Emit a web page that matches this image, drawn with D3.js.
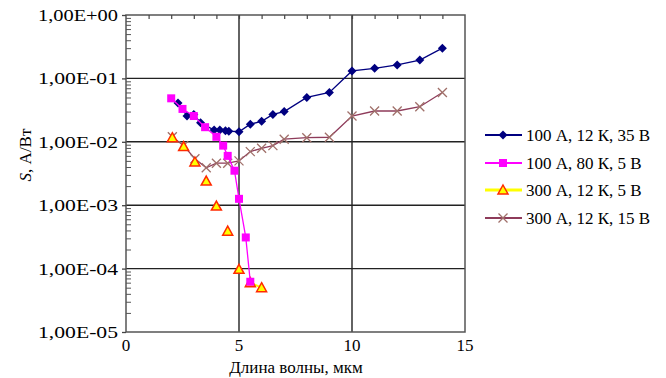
<!DOCTYPE html>
<html>
<head>
<meta charset="utf-8">
<script src="https://cdn.jsdelivr.net/npm/d3@7"></script>
<style>
    body { margin: 0; background: #fff; }
</style>
</head>
<body>
<svg id="chart"></svg>
<script>
// wavelength values (мкм) and sensitivity S (А/Вт) for each curve
const blueX = [2.3, 2.7, 3.0, 3.3, 3.9, 4.15, 4.4, 4.55, 5.0, 5.5, 6.0, 6.5, 7.0, 8.0, 9.0, 10.0, 11.0, 12.0, 13.0, 14.0];
const blueS = [0.041, 0.0255, 0.027, 0.020, 0.0153, 0.0153, 0.015, 0.0147, 0.0144, 0.019, 0.021, 0.027, 0.030, 0.050, 0.060, 0.131, 0.144, 0.163, 0.195, 0.30];

const pinkX = [2.0, 2.5, 3.0, 3.5, 4.0, 4.3, 4.5, 4.8, 5.0, 5.3, 5.5];
const pinkS = [0.0485, 0.033, 0.0255, 0.017, 0.012, 0.0087, 0.0060, 0.0035, 0.00126, 0.00031, 0.000062];

// null = empty cell, the line is broken there
const yellowX = [2.05, null, 2.55, null, 3.05, null, 3.55, null, 4.0, null, 4.5, null, 5.0, null, 5.5, 6.0];
const yellowS = [0.0116, null, 0.0084, null, 0.0048, null, 0.0024, null, 0.00097, null, 0.00039, null, 0.0000975, null, 0.00006, 0.00005];

const brownX = [2.05, 2.55, 3.05, 3.55, 4.0, 4.5, 5.0, 5.5, 6.0, 6.5, 7.0, 8.0, 9.0, 10.0, 11.0, 12.0, 13.0, 14.0];
const brownS = [0.012, 0.0087, 0.0054, 0.0039, 0.0046, 0.0046, 0.0050, 0.0070, 0.0079, 0.0087, 0.011, 0.0116, 0.0118, 0.0255, 0.0306, 0.0306, 0.0358, 0.060];

const seriesNames = ["100 А, 12 К, 35 В", "100 А, 80 К, 5 В", "300 А, 12 К, 5 В", "300 А, 12 К, 15 В"];
const xTicks = [0, 5, 10, 15];
const yTicks = [1e-5, 1e-4, 1e-3, 1e-2, 1e-1, 1];
const yTickLabels = ["1,00E-05", "1,00E-04", "1,00E-03", "1,00E-02", "1,00E-01", "1,00E+00"];

const font = '"Liberation Serif", "DejaVu Serif", serif';

const svg = d3.select("#chart").attr("width", 666).attr("height", 378)
    .style("font-family", font);

const plot = {left: 126, right: 465, top: 15, bottom: 332};

const x = d3.scaleLinear().domain([0, 15]).range([plot.left, plot.right]);
const y = d3.scaleLog().domain([1e-5, 1]).range([plot.bottom, plot.top]);

const zip = (xs, ys) => xs.map((v, i) => (v === null ? null : {x: v, s: ys[i]}));

const series = [
    {name: seriesNames[0], pts: zip(blueX, blueS), line: "#000080", marker: "diamond"},
    {name: seriesNames[1], pts: zip(pinkX, pinkS), line: "#ff00ff", marker: "square"},
    {name: seriesNames[2], pts: zip(yellowX, yellowS), line: "#ffff00", marker: "triangle"},
    {name: seriesNames[3], pts: zip(brownX, brownS), line: "#8e3b5a", marker: "cross"}
];

// grid lines
const grid = svg.append("g");
grid.selectAll("line.h").data(yTicks.slice(1, -1)).enter().append("line")
    .attr("x1", plot.left).attr("x2", plot.right)
    .attr("y1", d => y(d)).attr("y2", d => y(d))
    .attr("stroke", "#222").attr("stroke-width", 1.4);
grid.selectAll("line.v").data(xTicks.slice(1, -1)).enter().append("line")
    .attr("y1", plot.top).attr("y2", plot.bottom)
    .attr("x1", d => x(d)).attr("x2", d => x(d))
    .attr("stroke", "#222").attr("stroke-width", 1.4);

// frame
svg.append("rect")
    .attr("x", plot.left).attr("y", plot.top)
    .attr("width", plot.right - plot.left).attr("height", plot.bottom - plot.top)
    .attr("fill", "none").attr("stroke", "#555").attr("stroke-width", 1.5);

// x axis sits at the top (crosses at 1), minor ticks pointing down
const xTop = svg.append("g")
    .attr("transform", `translate(0, ${plot.top})`)
    .call(d3.axisBottom(x).tickValues(d3.range(1, 15)).tickSize(4).tickFormat(""));
xTop.select(".domain").remove();
xTop.selectAll("line").attr("stroke", "#444").attr("stroke-width", 1.2);

// x tick labels at the bottom
svg.append("g").selectAll("text").data(xTicks).enter().append("text")
    .attr("x", d => x(d)).attr("y", plot.bottom + 19)
    .attr("text-anchor", "middle").attr("font-size", 17)
    .text(d => d);

// y axis: minor ticks inside, major out
const minor = [];
yTicks.slice(0, -1).forEach(t => { for (let k = 2; k <= 9; k++) minor.push(t * k); });
const yMinor = svg.append("g")
    .attr("transform", `translate(${plot.left}, 0)`)
    .call(d3.axisRight(y).tickValues(minor).tickSize(5).tickFormat(""));
yMinor.select(".domain").remove();
yMinor.selectAll("line").attr("stroke", "#555");

const yMajor = svg.append("g")
    .attr("transform", `translate(${plot.left}, 0)`)
    .call(d3.axisLeft(y).tickValues(yTicks).tickSize(4).tickFormat((d, i) => yTickLabels[i]));
yMajor.select(".domain").remove();
yMajor.attr("font-family", font);
yMajor.selectAll("line").attr("stroke", "#444").attr("stroke-width", 1.3);
yMajor.selectAll("text")
    .attr("font-size", 17).attr("fill", "#000")
    .attr("textLength", 80).attr("lengthAdjust", "spacingAndGlyphs")
    .attr("x", -8);

// axis titles
const yTitle = svg.append("text")
    .attr("transform", "translate(31, 155) rotate(-90)")
    .attr("text-anchor", "middle").attr("font-size", 17);
yTitle.append("tspan").attr("font-style", "italic").text("S");
yTitle.append("tspan").text(", А/Вт");

svg.append("text")
    .attr("x", 296).attr("y", 373)
    .attr("text-anchor", "middle").attr("font-size", 17)
    .text("Длина волны, мкм");

// markers
function drawMarker(g, type) {
    if (type === "diamond") {
        g.append("path").attr("d", "M0,-4.5L4.5,0L0,4.5L-4.5,0Z").attr("fill", "#000080");
    } else if (type === "square") {
        g.append("rect").attr("x", -4).attr("y", -4).attr("width", 8).attr("height", 8).attr("fill", "#ff00ff");
    } else if (type === "triangle") {
        g.append("path").attr("d", "M0,-5L5,4L-5,4Z")
            .attr("fill", "#ffff00").attr("stroke", "#ff2a00").attr("stroke-width", 1.5);
    } else {
        g.append("path").attr("d", "M-4.5,-4.5L4.5,4.5M-4.5,4.5L4.5,-4.5")
            .attr("stroke", "#a0706a").attr("stroke-width", 1.3).attr("fill", "none");
    }
}

const line = d3.line()
    .defined(d => d !== null)
    .x(d => x(d.x))
    .y(d => y(d.s));

const drawOrder = [3, 0, 2, 1];
drawOrder.forEach(i => {
    const s = series[i];
    svg.append("path")
        .datum(s.pts)
        .attr("d", line)
        .attr("fill", "none")
        .attr("stroke", s.line)
        .attr("stroke-width", i === 2 ? 2 : 1.3);
    svg.append("g").selectAll("g")
        .data(s.pts.filter(d => d !== null))
        .enter().append("g")
        .attr("transform", d => `translate(${x(d.x)}, ${y(d.s)})`)
        .each(function() { drawMarker(d3.select(this), s.marker); });
});

// legend
const legendRows = [135, 163, 190, 218];
const legend = svg.append("g");
series.forEach((s, i) => {
    const row = legend.append("g").attr("transform", `translate(0, ${legendRows[i]})`);
    row.append("line")
        .attr("x1", 485).attr("x2", 522).attr("y1", 0).attr("y2", 0)
        .attr("stroke", s.line).attr("stroke-width", i === 2 ? 3 : 2);
    const m = row.append("g").attr("transform", "translate(503, 0)");
    drawMarker(m, s.marker);
    row.append("text")
        .attr("x", 526).attr("y", 6)
        .attr("font-size", 17)
        .text(s.name);
});
</script>
</body>
</html>
